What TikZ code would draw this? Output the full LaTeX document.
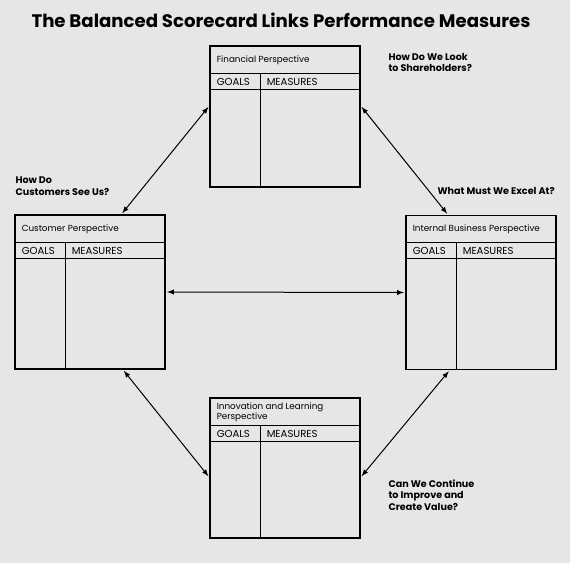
\documentclass[tikz,border=0pt]{standalone}
\usepackage{fontspec}
\setmainfont{Poppins}
\usetikzlibrary{arrows, positioning, calc}
\definecolor{bggray}{HTML}{E6E6E6}

\begin{document}
\begin{tikzpicture}[x=0.75pt,y=-0.75pt,>=latex,line width=0.75pt]

	\tikzset{persp/.style={draw, line width=1.1pt, fill=bggray,
			minimum width=112.5pt, inner sep=0pt}}
	\tikzset{box text/.style={inner sep=0pt, anchor=base west,
			font=\fontsize{6.6}{7.5}\selectfont, align=left}}
	\tikzset{head text/.style={box text, font=\fontsize{7.6}{8}\selectfont}}
	\tikzset{ask text/.style={inner sep=0pt, anchor=base west,
			font=\fontsize{7.2}{8.6}\selectfont\bfseries, align=left}}
	\tikzset{link/.style={<->, shorten <=1pt, shorten >=1pt}}

	\useasboundingbox (0,0) rectangle (570,563);
	\fill[bggray] (0,0) rectangle (570,563);

	\node[anchor=base, inner sep=0pt, font=\fontsize{13.6}{15}\selectfont\bfseries]
	(title) at (281,28) {The Balanced Scorecard Links Performance Measures};

	% the four perspectives
	\node[persp, minimum height=105.75pt] (fin) at (285,116.5) {};
	\node[persp, minimum height=115.5pt] (cust) at (90,292) {};
	\node[persp, minimum height=115.5pt] (int) at (481,292.5) {};
	\node[persp, minimum height=105pt] (inn) at (285,468) {};

	\foreach \b in {fin,cust,int,inn}{
		\draw[line width=1pt] ($(\b.north west)+(0,28)$) -- ($(\b.north east)+(0,28)$);
		\draw[line width=1pt] ($(\b.north west)+(0,44)$) -- ($(\b.north east)+(0,44)$);
		\draw[line width=1pt] ($(\b.north west)+(51,28)$) -- ($(\b.south west)+(51,0)$);
		\node[head text] at ($(\b.north west)+(7,40)$) {GOALS};
		\node[head text] at ($(\b.north west)+(57,40)$) {MEASURES};
	}

	\node[box text] (fin title) at ($(fin.north west)+(7,17)$) {Financial Perspective};
	\node[box text] (cust title) at ($(cust.north west)+(7,17)$) {Customer Perspective};
	\node[box text] (int title) at ($(int.north west)+(7,17)$) {Internal Business Perspective};
	\node[box text] (inn title) at ($(inn.north west)+(7,22)$) {Innovation and Learning\\Perspective};

	% questions
	\node[ask text] (share) at (388,71.5) {How Do We Look\\to Shareholders?};
	\node[ask text] (custq) at (15,195) {How Do\\Customers See Us?};
	\node[ask text] (excel) at (437,194) {What Must We Excel At?};
	\node[ask text] (value) at (388,510) {Can We Continue\\to Improve and\\Create Value?};

	% links
	\draw[link] (fin.172) -- (cust.68);
	\draw[link] (fin.8) -- (int.113);
	\draw[link] (cust.east) -- (int.west);
	\draw[link] (cust.293) -- (inn.187);
	\draw[link] (inn.353) -- (int.248);
\end{tikzpicture}
\end{document}
